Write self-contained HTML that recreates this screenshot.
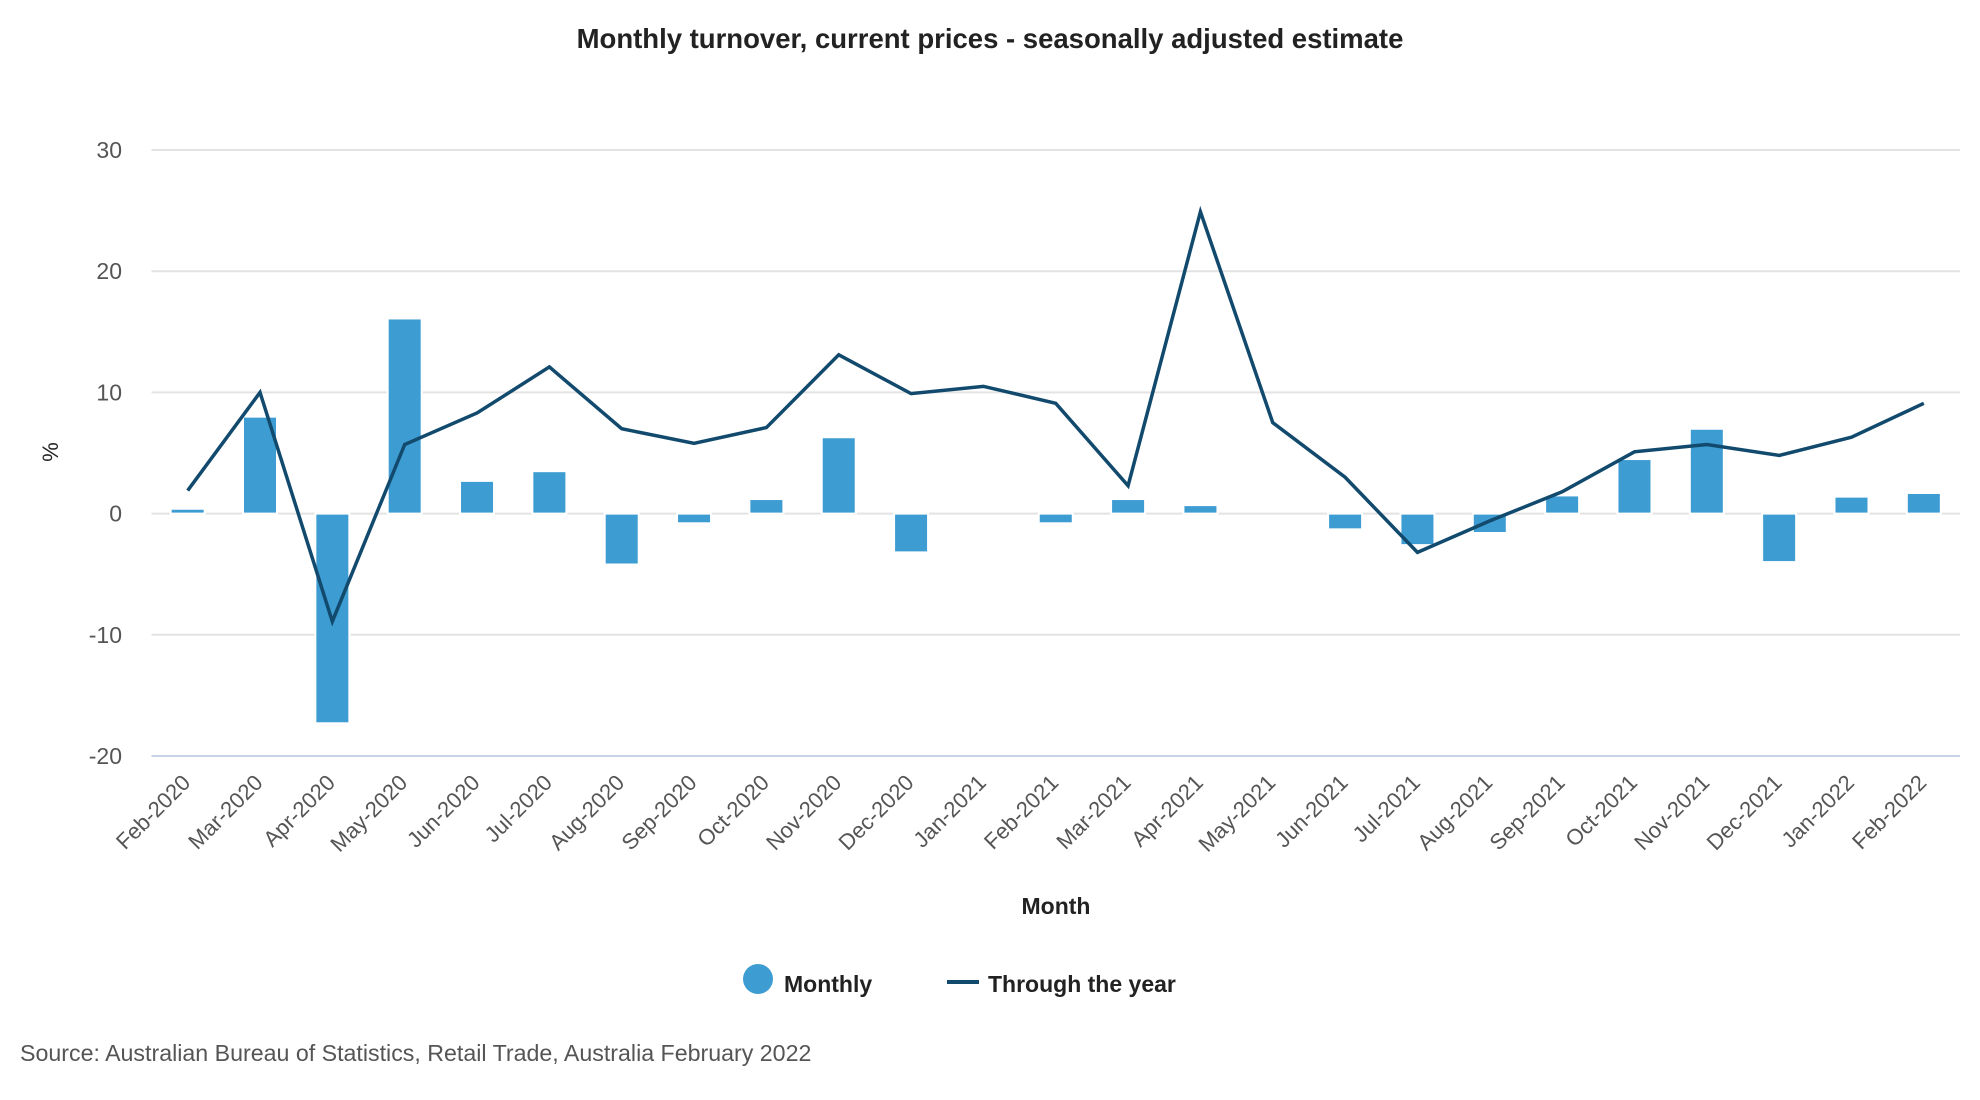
<!DOCTYPE html>
<html><head><meta charset="utf-8"><style>
body{margin:0;background:#fff;font-family:"Liberation Sans",sans-serif;}
svg{display:block}
</style></head><body>
<svg id="chart" width="1980" height="1100">
<text x="990" y="48" text-anchor="middle" font-size="27.5" font-weight="bold" fill="#222">Monthly turnover, current prices - seasonally adjusted estimate</text>
<g id="grid"></g><g id="bars"></g><g id="line"></g><g id="xlabels"></g>
<text transform="translate(58,452) rotate(-90)" text-anchor="middle" font-size="22" fill="#222">%</text>
<text x="1056" y="914" text-anchor="middle" font-size="23" font-weight="bold" fill="#222">Month</text>
<g>
<g><circle cx="758" cy="979" r="15" fill="#3d9cd2"/><text x="784" y="992" font-size="23" font-weight="bold" fill="#222">Monthly</text></g>
<g><line x1="947" y1="982" x2="979" y2="982" stroke="#124a6e" stroke-width="4"/><text x="988" y="992" font-size="23" font-weight="bold" fill="#222">Through the year</text></g>
</g>
<text x="20" y="1061" font-size="23.2" fill="#555">Source: Australian Bureau of Statistics, Retail Trade, Australia February 2022</text>
</svg>
<script>
const categories=["Feb-2020","Mar-2020","Apr-2020","May-2020","Jun-2020","Jul-2020","Aug-2020","Sep-2020","Oct-2020","Nov-2020","Dec-2020","Jan-2021","Feb-2021","Mar-2021","Apr-2021","May-2021","Jun-2021","Jul-2021","Aug-2021","Sep-2021","Oct-2021","Nov-2021","Dec-2021","Jan-2022","Feb-2022"];
const monthly=[0.4,8.0,-17.3,16.1,2.7,3.5,-4.2,-0.8,1.2,6.3,-3.2,0,-0.8,1.2,0.7,0,-1.3,-2.6,-1.6,1.5,4.5,7.0,-4.0,1.4,1.7];
const throughYear=[1.9,10.0,-8.9,5.7,8.3,12.1,7.0,5.8,7.1,13.1,9.9,10.5,9.1,2.3,24.9,7.5,3.0,-3.2,-0.6,1.8,5.1,5.7,4.8,6.3,9.1];
const yTicks=[30,20,10,0,-10,-20];
const NS="http://www.w3.org/2000/svg";
const L=151.5,R=1960,T=150,B=756,ymin=-20,ymax=30;
const band=(R-L)/categories.length;
const x=i=>L+(i+0.5)*band;
const y=v=>B-(v-ymin)/(ymax-ymin)*(B-T);
function mk(tag,at,parent){const e=document.createElementNS(NS,tag);for(const k in at)e.setAttribute(k,at[k]);parent.appendChild(e);return e;}
const grid=document.getElementById('grid');
yTicks.forEach(t=>{
 const ln=mk('line',{x1:L,x2:R,y1:y(t),y2:y(t),stroke:t===-20?'#c8d2e6':'#e3e3e3','stroke-width':2},grid);
 
 
 const tx=mk('text',{x:122,y:y(t)+8,'text-anchor':'end','font-size':23,fill:'#555'},grid);
 tx.textContent=t;
 
 
});
const bars=document.getElementById('bars');
monthly.forEach((v,i)=>{
 const bw=34;
 const r=mk('rect',{x:x(i)-bw/2,y:Math.min(y(v),y(0)),width:bw,height:Math.abs(y(v)-y(0)),fill:'#3d9cd2',stroke:'#fff','stroke-width':2},bars);
 
 
});
const lg=document.getElementById('line');
const p=mk('polyline',{points:throughYear.map((v,i)=>x(i)+','+y(v)).join(' '),fill:'none',stroke:'#124a6e','stroke-width':3.5,'stroke-linejoin':'miter'},lg);


const xl=document.getElementById('xlabels');
categories.forEach((c,i)=>{
 const t=mk('text',{transform:`translate(${x(i)+4},${784}) rotate(-45)`,'text-anchor':'end','font-size':22,fill:'#555'},xl);
 t.textContent=c;
 
 
});
</script>
</body></html>
